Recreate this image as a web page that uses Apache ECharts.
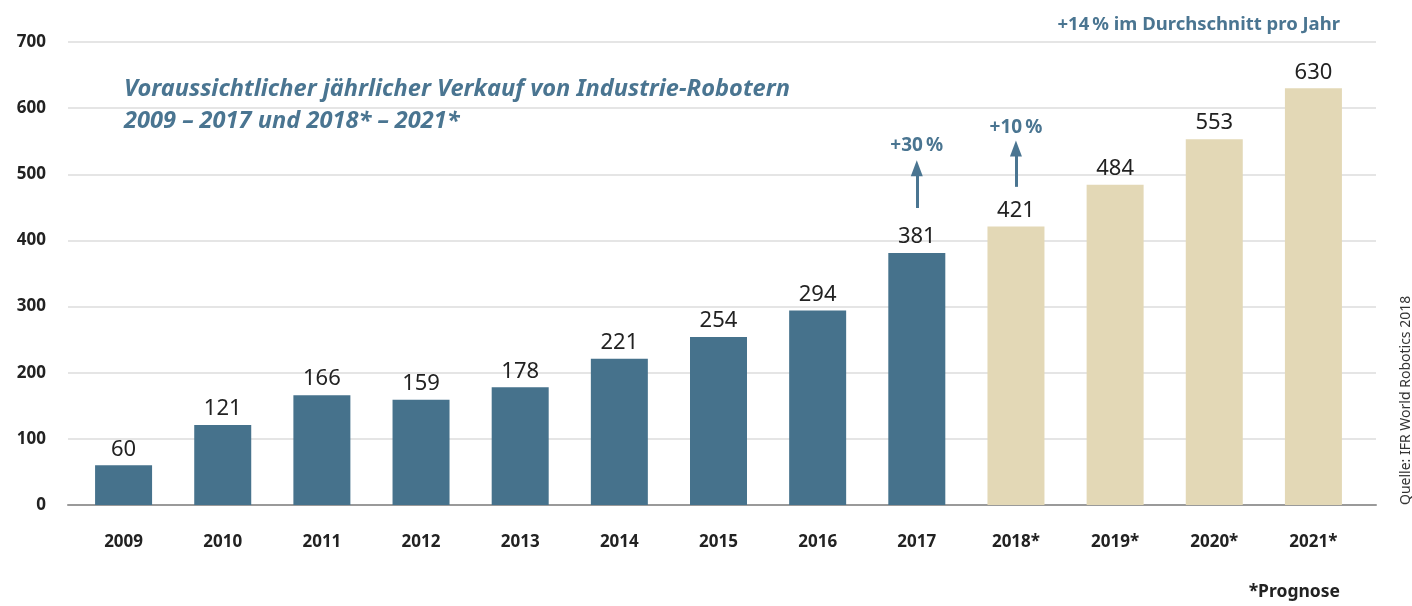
<!DOCTYPE html>
<html>
<head>
<meta charset="utf-8">
<script src="https://cdn.jsdelivr.net/npm/echarts@6/dist/echarts.min.js"></script>
<style>
  html, body { margin: 0; padding: 0; background: #fff; }
  #chart { width: 1412px; height: 606px; }
</style>
</head>
<body>
<div id="chart"></div>
<script>
const years = ['2009', '2010', '2011', '2012', '2013', '2014', '2015', '2016', '2017', '2018*', '2019*', '2020*', '2021*']
const sales = [60, 121, 166, 159, 178, 221, 254, 294, 381, 421, 484, 553, 630]
const forecast = [false, false, false, false, false, false, false, false, false, true, true, true, true]
const yTicks = [0, 700, 100]
// growth arrows: [category, from, to, label value, text]
const arrows = [
  ['2017', 449, 509, 543, '+30\u2009%'],
  ['2018*', 481, 539, 571, '+10\u2009%']
]

const BLUE = '#46728c'
const BEIGE = '#e3d8b6'
const TEXT_BLUE = '#4a7591'
const FONT = 'Noto Sans'

const chart = echarts.init(document.getElementById('chart'))
chart.setOption({
  animation: false,
  textStyle: { fontFamily: FONT },
  grid: [
    { left: 68, right: 36, top: 42, bottom: 101 },
    { left: 74, right: 49, top: 42, bottom: 101 }
  ],
  xAxis: [
    {
      gridIndex: 0, type: 'value', min: 0, max: 1,
      axisLine: { show: true, lineStyle: { color: '#9a9a9a', width: 2 } },
      axisTick: { show: false }, axisLabel: { show: false }, splitLine: { show: false }
    },
    {
      gridIndex: 1, type: 'category', data: years,
      axisLine: { show: false }, axisTick: { show: false },
      axisLabel: { color: '#222', fontSize: 17, fontWeight: 'bold', margin: 29, fontFamily: FONT }
    }
  ],
  yAxis: [
    {
      gridIndex: 0, type: 'value', min: yTicks[0], max: yTicks[1], interval: yTicks[2],
      axisLine: { show: false }, axisTick: { show: false },
      axisLabel: { color: '#222', fontSize: 17, fontWeight: 'bold', margin: 22, fontFamily: FONT },
      splitLine: { lineStyle: { color: '#dcdcdc', width: 1.5 } }
    },
    {
      gridIndex: 1, type: 'value', min: yTicks[0], max: yTicks[1],
      show: false, splitLine: { show: false }
    }
  ],
  series: [{
    type: 'bar',
    xAxisIndex: 1, yAxisIndex: 1,
    barWidth: 57,
    data: sales.map((v, i) => ({ value: v, itemStyle: { color: forecast[i] ? BEIGE : BLUE } })),
    label: {
      show: true, position: 'top', distance: 5,
      color: '#222', fontSize: 22, fontFamily: FONT
    },
    markLine: {
      silent: true,
      symbol: ['none', 'triangle'],
      symbolSize: [12, 16],
      lineStyle: { color: TEXT_BLUE, width: 3, type: 'solid' },
      label: { show: false },
      data: arrows.map(a => [{ coord: [a[0], a[1]] }, { coord: [a[0], a[2]] }])
    },
    markPoint: {
      silent: true,
      symbol: 'circle', symbolSize: 0,
      label: {
        show: true, color: TEXT_BLUE, fontSize: 19, fontWeight: 'bold', fontFamily: FONT,
        formatter: p => p.data.name
      },
      data: arrows.map(a => ({ name: a[4], coord: [a[0], a[3]] }))
    }
  }],
  graphic: [
    {
      type: 'text', left: 124, top: 73,
      style: {
        text: 'Voraussichtlicher jährlicher Verkauf von Industrie-Robotern\n2009 – 2017 und 2018* – 2021*',
        fill: TEXT_BLUE, font: 'italic bold 23.6px "Noto Sans"', lineHeight: 32
      }
    },
    {
      type: 'text', right: 72, top: 15,
      style: { text: '+14\u2009% im Durchschnitt pro Jahr', fill: TEXT_BLUE, font: 'bold 18.5px "Noto Sans"' }
    },
    {
      type: 'text', right: 72, top: 583,
      style: { text: '*Prognose', fill: '#222', font: 'bold 17.5px "Noto Sans"' }
    },
    {
      type: 'text', x: 1399, y: 505, rotation: Math.PI / 2,
      style: { text: 'Quelle: IFR World Robotics 2018', fill: '#333', font: '14px "Noto Sans"', textAlign: 'left', textVerticalAlign: 'top' }
    }
  ]
})
</script>
</body>
</html>
